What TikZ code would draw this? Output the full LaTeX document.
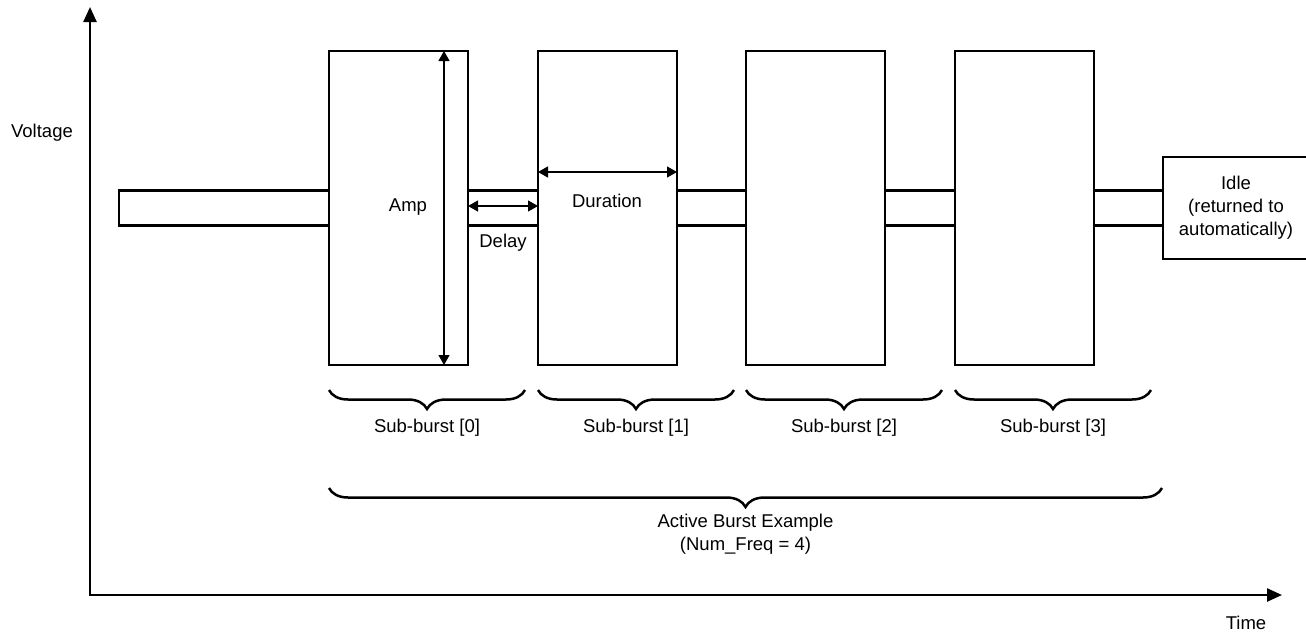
\documentclass[tikz,border=0pt]{standalone}
\usepackage{fontspec}
\setmainfont{Liberation Sans}
\usetikzlibrary{arrows.meta,calc,decorations.pathreplacing}
\begin{document}
\begin{tikzpicture}[x=1pt,y=-1pt,
    burst/.style={draw,line width=2.5pt,minimum width=139pt,minimum height=314pt,inner sep=0pt,outer sep=0pt},
    lbl/.style={font=\fontsize{18.5}{23}\selectfont,align=center},
    dim/.style={line width=1.2pt,{Triangle[length=10pt,width=11pt]}-{Triangle[length=10pt,width=11pt]}},
    axis/.style={line width=2.5pt,{Triangle[length=15pt,width=13pt]}-{Triangle[length=15pt,width=13pt]}},
    curly/.style={line width=2.5pt,decorate,decoration={brace,mirror,amplitude=19pt}},
    wire/.style={line width=2.5pt}]
            \useasboundingbox (0,0) rectangle (1306,635);

            % Draw axes
            \coordinate (origin) at (90,595);
            \coordinate (vtip) at (90,7);
            \coordinate (ttip) at (1282,595);
            \draw[axis] (vtip) -- (origin) -- (ttip);

            % Draw sub-bursts and idle level
            \node[burst] (b0) at (398.5,208) {};
            \node[burst] (b1) at (607.5,208) {};
            \node[burst] (b2) at (815.5,208) {};
            \node[burst] (b3) at (1024.5,208) {};
            \node[burst,minimum width=210pt,minimum height=35pt,anchor=east] (base) at (b0.west) {};
            \node[burst,lbl,minimum width=146pt,minimum height=102pt,anchor=west] (idle) at (1163,208) {Idle\\(returned to\\automatically)};
            \foreach \a/\b in {b0/b1,b1/b2,b2/b3,b3/idle} {
                \draw[wire] ([yshift=17.5pt]\a.east) -- ([yshift=17.5pt]\b.west);
                \draw[wire] ([yshift=-17.5pt]\a.east) -- ([yshift=-17.5pt]\b.west);
            }

            % Draw dimension arrows
            \draw[dim] ([xshift=45.5pt]b0.north) -- ([xshift=45.5pt]b0.south);
            \draw[dim] ([yshift=2pt]b0.east) -- ([yshift=2pt]b1.west);
            \draw[dim] ([yshift=36pt]b1.west) -- ([yshift=36pt]b1.east);

            % Draw braces
            \foreach \i in {0,...,3}
                \draw[curly] ($(b\i.south west)+(0,25)$) -- ($(b\i.south west)+(196,25)$)
                    node[lbl,midway,yshift=-38pt] {Sub-burst [\i]};
            \draw[curly] ($(b0.south west)+(0,123)$) -- ($(b0.south west)+(833,123)$)
                node[lbl,midway,yshift=-46pt] {Active Burst Example\\(Num\_Freq = 4)};

            % Add labels
            \node[lbl] (amp) at (408,207) {Amp};
            \node[lbl] (delay) at (503,243) {Delay};
            \node[lbl] (dur) at (607,201) {Duration};
            \node[lbl] (vlabel) at (42,133) {Voltage};
            \node[lbl] (tlabel) at (1246,623) {Time};
        \end{tikzpicture}
\end{document}
